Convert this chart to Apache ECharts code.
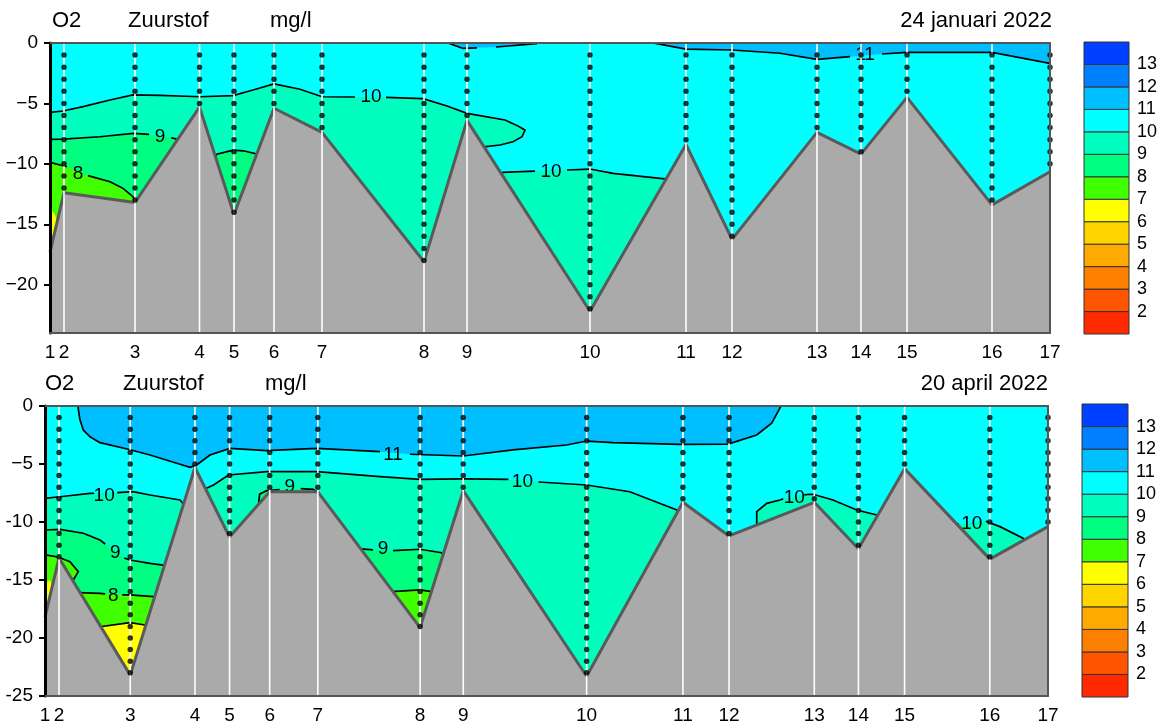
<!DOCTYPE html>
<html>
<head>
<meta charset="utf-8">
<title>O2 Zuurstof</title>
<script src="https://cdn.jsdelivr.net/npm/echarts@6/dist/echarts.min.js"></script>
<style>
  html, body { margin: 0; padding: 0; background: #fff; }
  #chart { width: 1161px; height: 723px; }
</style>
</head>
<body>
<div id="chart"></div>
<script>
const FONT = '"Liberation Sans", Arial, Helvetica, sans-serif';

// stations along the transect (distance in plot units 0..1000)
const stationNames = ['1', '2', '3', '4', '5', '6', '7', '8', '9', '10', '11', '12', '13', '14', '15', '16', '17'];
const stationDist = [0, 14, 85, 149.5, 184, 224, 272, 374, 417, 540, 636, 682, 767, 811, 857, 942, 1000];

// bottom depth (m) per station
const bottomJan = [-17.3, -12.4, -13.2, -5.3, -14.2, -5.4, -7.4, -18.1, -6.4, -22.2, -8.4, -16.25, -7.4, -9.2, -4.5, -13.4, -10.65];
const bottomApr = [-18.2, -13.1, -23.2, -5.3, -11.3, -7.4, -7.4, -19.1, -7.3, -23.3, -8.3, -11.2, -8.3, -12.3, -5.4, -13.2, -10.4];

// deepest sample (m) per station, one sample every metre
const samplesJan = [0, 12, 13, 5, 14, 5, 7, 18, 6, 22, 8, 16, 7, 9, 4, 13, 10];
const samplesApr = [0, 13, 23, 5, 11, 7, 7, 19, 7, 23, 8, 11, 8, 12, 5, 13, 10];

const depthTicksJan = [0, -5, -10, -15, -20];
const depthTicksApr = [0, -5, -10, -15, -20, -25];

// colour scale, lowest class first (<2, 2-3, ... , >13)
const legendTicks = [2, 3, 4, 5, 6, 7, 8, 9, 10, 11, 12, 13];
const legendColors = ['#ff2a00', '#ff5500', '#ff8000', '#ffaa00', '#ffd500', '#ffff00',
  '#40ff00', '#00ff80', '#00ffbf', '#00ffff', '#00bfff', '#0080ff', '#0040ff'];

// ---- 24 januari 2022: contour lines [dist, depth] ----
const janC11a = [[398, 0], [413, -0.45], [427, -0.4]];
const janC11b = [[446, -0.33], [487, -0.05]];
const janC11c = [[603, 0], [636, -0.5], [682, -0.58], [730, -0.85], [767, -1.35], [800, -1.13]];
const janC11d = [[832, -0.91], [857, -0.77], [942, -0.77], [1000, -1.68]];
const janC10a = [[0, -5.74], [13, -5.63], [33, -5.27], [60, -4.72], [83, -4.3], [110, -4.33], [150, -4.45],
  [183, -4.36], [203, -3.89], [224, -3.39], [250, -3.83], [272, -4.45], [305, -4.47]];
const janC10b = [[336, -4.5], [373, -4.61], [397, -5.21], [417, -5.82], [455, -6.37], [468, -6.87],
  [475, -7.2], [472, -7.76], [463, -8.17], [450, -8.44], [436, -8.58], [432, -8.8]];
const janC10c = [[450, -10.9], [453, -10.7], [485, -10.6]];
const janC10d = [[517, -10.51], [540, -10.43], [563, -10.79], [617, -11.26], [620, -11.45]];
const janC9a = [[0, -7.97], [13, -7.95], [50, -7.76], [83, -7.48], [99, -7.56]];
const janC9b = [[121, -7.84], [128, -7.97], [131, -8.3]];
const janC9c = [[164, -9.6], [166.7, -9.21], [183.3, -8.86], [193.3, -8.92], [206.7, -9.19], [209, -9.5]];
const janC8a = [[0, -9.88], [17, -10.24]];
const janC8b = [[38, -10.98], [60, -11.48], [73, -12.03], [83, -12.72], [86, -13.2]];
const janB6 = [[0, -13.7], [5, -14.2], [8, -15], [8, -24], [0, -24]];
const janLabels = [['10', 321, -4.47], ['10', 501, -10.64], ['9', 110, -7.74], ['8', 28, -10.8], ['11', 815, -0.99]];

// ---- 20 april 2022: contour lines [dist, depth] ----
const aprC11a = [[33, 0], [33.2, -0.3], [34.9, -1.21], [38.2, -2.07], [44.9, -2.65], [54.8, -3.16], [83, -3.73],
  [104.7, -4.22], [131.3, -4.94], [144.6, -5.28], [151.2, -5.09], [164.5, -4.22], [184.4, -3.65], [221, -3.85],
  [270.9, -3.65], [334, -3.94]];
const aprC11b = [[363.9, -4.16], [417, -4.31], [466.6, -3.79], [520.1, -3.36], [540.1, -3.02], [566.3, -3.16],
  [633.1, -3.3], [681, -3.28], [709.6, -2.5], [724.5, -1.49], [733.8, 0]];
const aprC10a = [[0, -7.96], [21.6, -7.76], [44.9, -7.53], [49, -7.52]];
const aprC10b = [[72, -7.47], [87.7, -7.39], [104.7, -7.67], [134.6, -8.1], [138, -8.45]];
const aprC10c = [[155, -7.5], [161, -7.09], [168, -6.81], [183, -5.95], [221, -5.66], [271, -5.66], [334, -6.09],
  [374, -6.32], [417, -6.29], [462, -6.32]];
const aprC10d = [[492, -6.55], [540, -6.81], [583, -7.39], [630, -8.97], [634, -9.3]];
const aprC10e = [[709.6, -10.4], [709.6, -9.11], [719.6, -8.39], [732.8, -8.1], [736, -8.0]];
const aprC10f = [[757, -7.66], [762.7, -7.61], [765.7, -7.61], [785.6, -8.1], [809.3, -8.97], [829.2, -9.4], [833, -9.65]];
const aprC10g = [[904, -10.25], [911, -10.15]];
const aprC10h = [[938, -9.93], [952.1, -10.4], [975.1, -11.4], [978, -11.7]];
const aprC9a = [[0, -10.69], [15, -10.63], [38.2, -10.97], [54.8, -11.55], [60, -11.9]];
const aprC9b = [[79, -13.1], [84.7, -13.28], [104.7, -13.56], [117.6, -13.71], [121, -13.95]];
const aprC9c = [[212.9, -8.5], [214, -7.6], [221, -7.3], [234, -7.2]];
const aprC9d = [[255, -7.12], [267.5, -7.18], [271, -7.4]];
const aprC9e = [[312, -12.3], [327, -12.41]];
const aprC9f = [[347, -12.47], [373.9, -12.35], [395.5, -12.65], [398, -12.9]];
const aprC8a = [[0, -12.84], [13, -13.02], [24.9, -13.42], [33.2, -14.28], [28.2, -15.0], [26, -15.4]];
const aprC8b = [[31, -16.0], [33.2, -16.09], [54.8, -16.15], [60, -16.2]];
const aprC8c = [[77, -16.28], [84.7, -16.29], [108, -16.44], [111, -16.6]];
const aprC8d = [[343, -16.0], [345.6, -16.0], [373.9, -15.86], [385.5, -16.0], [388, -16.2]];
const aprC7 = [[52, -19.15], [54.8, -19.03], [84.7, -18.68], [99.7, -18.88], [103, -19.1]];
const aprB6 = [[0, -15.3], [5, -15.0], [7, -15.5], [7, -25], [0, -25]];
const aprLabels = [['11', 347, -4.22], ['10', 59, -7.7], ['10', 476, -6.53], ['10', 747, -7.89], ['10', 924, -10.17],
  ['9', 70, -12.63], ['8', 68, -16.38], ['9', 244, -6.95], ['9', 337, -12.33]];

const jan = {
  ymin: -24,
  ticks: depthTicksJan,
  fmt: v => (v === 0 ? '0' : '\u2212' + (-v)),
  bottom: bottomJan,
  samples: samplesJan,
  labels: janLabels,
  lines: [janC11a, janC11b, janC11c, janC11d, janC10a, janC10b, janC10c, janC10d, janC9a, janC9b, janC9c, janC8a, janC8b],
  bands: [
    { lvl: 10, pts: [[0, 0], [1000, 0], [1000, -24], [0, -24]] },
    { lvl: 11, pts: [...janC11a, ...janC11b, [487, 0]] },
    { lvl: 11, pts: [...janC11c, ...janC11d, [1000, 0]] },
    { lvl: 9, pts: [...janC10a, ...janC10b, [432, -24], [0, -24]] },
    { lvl: 9, pts: [...janC10c, ...janC10d, [620, -24], [450, -24]] },
    { lvl: 8, pts: [...janC9a, ...janC9b, [131, -24], [0, -24]] },
    { lvl: 8, pts: [...janC9c, [209, -24], [164, -24]] },
    { lvl: 7, pts: [...janC8a, ...janC8b, [86, -24], [0, -24]] },
    { lvl: 6, pts: janB6 }
  ]
};

const apr = {
  ymin: -25,
  ticks: depthTicksApr,
  fmt: v => (v === 0 ? '0' : (v === -5 ? '\u2212' : '-') + (-v)),
  bottom: bottomApr,
  samples: samplesApr,
  labels: aprLabels,
  lines: [aprC11a, aprC11b, aprC10a, aprC10b, aprC10c, aprC10d, aprC10e, aprC10f, aprC10g, aprC10h,
    aprC9a, aprC9b, aprC9c, aprC9d, aprC9e, aprC9f, aprC8a, aprC8b, aprC8c, aprC8d, aprC7],
  bands: [
    { lvl: 10, pts: [[0, 0], [1000, 0], [1000, -25], [0, -25]] },
    { lvl: 11, pts: [...aprC11a, ...aprC11b] },
    { lvl: 9, pts: [...aprC10a, ...aprC10b, [138, -25], [0, -25]] },
    { lvl: 9, pts: [...aprC10c, ...aprC10d, [634, -25], [155, -25]] },
    { lvl: 9, pts: [...aprC10e, ...aprC10f, [833, -14], [709.6, -14]] },
    { lvl: 9, pts: [...aprC10g, ...aprC10h, [978, -14], [904, -14]] },
    { lvl: 8, pts: [...aprC9a, ...aprC9b, [121, -25], [0, -25]] },
    { lvl: 8, pts: [...aprC9c, ...aprC9d, [271, -9], [212.9, -9]] },
    { lvl: 8, pts: [...aprC9e, ...aprC9f, [398, -25], [312, -25]] },
    { lvl: 7, pts: [...aprC8a, [13, -25], [0, -25]] },
    { lvl: 7, pts: [...aprC8b, ...aprC8c, [111, -25], [31, -25]] },
    { lvl: 7, pts: [...aprC8d, [388, -25], [343, -25]] },
    { lvl: 6, pts: [...aprC7, [103, -25], [52, -25]] },
    { lvl: 6, pts: aprB6 }
  ]
};

function stationLabel(v) {
  const i = stationDist.indexOf(v);
  return i >= 0 ? stationNames[i] : '';
}

function panelAxes(k, p) {
  const x = [
    {
      gridIndex: k, type: 'value', min: 0, max: 1000, position: 'bottom', z: 10,
      axisLine: { show: true, onZero: false, lineStyle: { color: '#555', width: 2 } },
      axisTick: { show: false }, splitLine: { show: false },
      axisLabel: { customValues: stationDist, formatter: stationLabel, hideOverlap: false,
        fontSize: 19, fontFamily: FONT, color: '#000', margin: 10 }
    },
    {
      gridIndex: k, type: 'value', min: 0, max: 1000, position: 'top', z: 10,
      axisLine: { show: true, onZero: false, lineStyle: { color: '#555', width: 2 } },
      axisTick: { show: false }, axisLabel: { show: false }, splitLine: { show: false }
    }
  ];
  const y = [
    {
      gridIndex: k, type: 'value', min: p.ymin, max: 0, position: 'left', z: 10,
      axisLine: { show: true, onZero: false, lineStyle: { color: '#000', width: 3 } },
      axisTick: { show: true, customValues: p.ticks, length: 6, lineStyle: { color: '#000', width: 2 } },
      axisLabel: { customValues: p.ticks, formatter: p.fmt, fontSize: 19, fontFamily: FONT, color: '#000', margin: 12 },
      splitLine: { show: false }
    },
    {
      gridIndex: k, type: 'value', min: p.ymin, max: 0, position: 'right', z: 10,
      axisLine: { show: true, onZero: false, lineStyle: { color: '#555', width: 2 } },
      axisTick: { show: false }, axisLabel: { show: false }, splitLine: { show: false }
    }
  ];
  return { x, y };
}

function panelSeries(k, p) {
  const ax = { xAxisIndex: 2 * k, yAxisIndex: 2 * k, silent: true };
  const dots = [];
  stationDist.forEach((d, i) => {
    for (let m = 1; m <= p.samples[i]; m++) dots.push([d, -m]);
  });
  return [
    Object.assign({
      type: 'custom', z: 1, clip: true,
      data: p.bands.map((b, j) => [j, 0]),
      renderItem: (params, api) => {
        const b = p.bands[params.dataIndex];
        return { type: 'polygon', shape: { points: b.pts.map(pt => api.coord(pt)) },
          style: { fill: legendColors[b.lvl - 1] } };
      }
    }, ax),
    Object.assign({
      type: 'custom', z: 2, clip: true,
      data: p.lines.map((l, j) => [j, 0]),
      renderItem: (params, api) => {
        const l = p.lines[params.dataIndex];
        return { type: 'polyline', shape: { points: l.map(pt => api.coord(pt)) },
          style: { stroke: '#000', lineWidth: 1.7, fill: 'none' } };
      }
    }, ax),
    Object.assign({
      type: 'custom', z: 3,
      data: p.labels.map(l => [l[1], l[2]]),
      renderItem: (params, api) => {
        const c = api.coord([api.value(0), api.value(1)]);
        return { type: 'text', x: c[0], y: c[1],
          style: { text: p.labels[params.dataIndex][0], font: '19px ' + FONT, fill: '#000',
            align: 'center', verticalAlign: 'middle' } };
      }
    }, ax),
    Object.assign({
      type: 'line', z: 4, symbol: 'none',
      data: stationDist.map((d, i) => [d, p.bottom[i]]),
      lineStyle: { color: '#5a5a5a', width: 3 },
      areaStyle: { color: '#aaaaaa', opacity: 1, origin: 'start' }
    }, ax),
    Object.assign({
      type: 'custom', z: 5,
      data: stationDist.map(d => [d, 0]),
      renderItem: (params, api) => {
        const top = api.coord([api.value(0), 0]);
        const bot = api.coord([api.value(0), p.ymin]);
        return { type: 'line', shape: { x1: top[0], y1: top[1], x2: bot[0], y2: bot[1] },
          style: { stroke: '#fff', lineWidth: 1.6 } };
      }
    }, ax),
    Object.assign({
      type: 'scatter', z: 6, symbolSize: 5.5, data: dots,
      itemStyle: { color: '#000' }
    }, ax)
  ];
}

function legendSeries(k) {
  return {
    type: 'custom', xAxisIndex: k, yAxisIndex: k, silent: true, z: 2,
    data: legendColors.map((c, j) => [0, j + 1]),
    renderItem: (params, api) => {
      const lo = api.value(1);
      const a = api.coord([0, lo + 1]);
      const b = api.coord([1, lo]);
      return { type: 'rect', shape: { x: a[0], y: a[1], width: b[0] - a[0], height: b[1] - a[1] },
        style: { fill: legendColors[params.dataIndex], stroke: '#333', lineWidth: 1 } };
    }
  };
}

function legendAxes(k) {
  return {
    x: { gridIndex: k, type: 'value', min: 0, max: 1, show: false },
    y: {
      gridIndex: k, type: 'value', min: 1, max: 14, position: 'right',
      axisLine: { show: false }, axisTick: { show: false }, splitLine: { show: false },
      axisLabel: { customValues: legendTicks, fontSize: 18, fontFamily: FONT, color: '#000', margin: 8 }
    }
  };
}

const a0 = panelAxes(0, jan);
const a1 = panelAxes(1, apr);
const l0 = legendAxes(2);
const l1 = legendAxes(3);

const titleStyle = { font: '22px ' + FONT, fill: '#000' };

const option = {
  animation: false,
  backgroundColor: '#fff',
  grid: [
    { left: 50, top: 43, width: 1000, height: 290, containLabel: false, outerBoundsMode: 'none' },
    { left: 45, top: 406, width: 1003, height: 290, containLabel: false, outerBoundsMode: 'none' },
    { left: 1084, top: 42, width: 45, height: 292, containLabel: false, outerBoundsMode: 'none' },
    { left: 1082, top: 404, width: 46, height: 293, containLabel: false, outerBoundsMode: 'none' }
  ],
  xAxis: [...a0.x, ...a1.x, l0.x, l1.x],
  yAxis: [...a0.y, ...a1.y, l0.y, l1.y],
  graphic: [
    { type: 'text', left: 52, top: 10, style: Object.assign({ text: 'O2' }, titleStyle) },
    { type: 'text', left: 128, top: 10, style: Object.assign({ text: 'Zuurstof' }, titleStyle) },
    { type: 'text', left: 270, top: 10, style: Object.assign({ text: 'mg/l' }, titleStyle) },
    { type: 'text', right: 109, top: 10, style: Object.assign({ text: '24 januari 2022' }, titleStyle) },
    { type: 'text', left: 45, top: 373, style: Object.assign({ text: 'O2' }, titleStyle) },
    { type: 'text', left: 123, top: 373, style: Object.assign({ text: 'Zuurstof' }, titleStyle) },
    { type: 'text', left: 265, top: 373, style: Object.assign({ text: 'mg/l' }, titleStyle) },
    { type: 'text', right: 113, top: 373, style: Object.assign({ text: '20 april 2022' }, titleStyle) }
  ],
  series: [
    ...panelSeries(0, jan),
    ...panelSeries(1, apr),
    legendSeries(4),
    legendSeries(5)
  ]
};

const chart = echarts.init(document.getElementById('chart'));
chart.setOption(option);
window.addEventListener('resize', () => chart.resize());
</script>
</body>
</html>
